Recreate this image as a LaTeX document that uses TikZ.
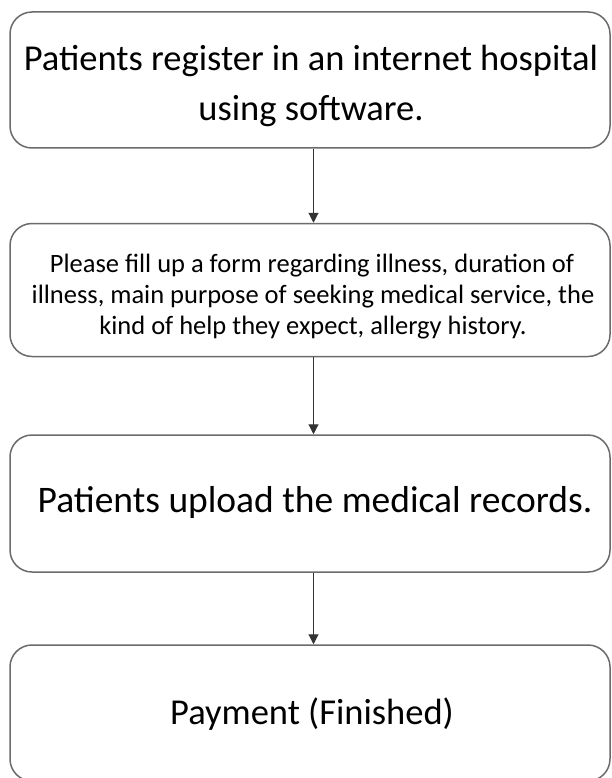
\documentclass[tikz,border=0pt]{standalone}
\usepackage{fontspec}
\setmainfont{Carlito}
\usetikzlibrary{arrows.meta}
\begin{document}
\begin{tikzpicture}[x=1pt,y=-1pt,
  stepbox/.style={draw=black!58, line width=1.5pt, rounded corners=22pt, minimum width=600pt, inner sep=0pt, fill=white},
  big/.style={anchor=base, inner sep=0pt, font=\fontsize{36.5}{40}\selectfont},
  small/.style={anchor=base, inner sep=0pt, font=\fontsize{26.5}{30}\selectfont},
  flow/.style={draw=black!80, line width=1.1pt, -{Triangle[length=10pt,width=10pt]}}]
\clip (0,0) rectangle (611,778);
\useasboundingbox (0,0) rectangle (611,778);
\node[stepbox, minimum height=136pt] (b1) at (310,80) {};
\node[stepbox, minimum height=133pt] (b2) at (310,290) {};
\node[stepbox, minimum height=137pt] (b3) at (310,503.5) {};
\node[stepbox, minimum height=136pt] (b4) at (310,713) {};
\node[big] (t1a) at (311,71) {Patients register in an internet hospital};
\node[big] (t1b) at (311,121) {using software.};
\node[small] (t2a) at (312,272) {Please fill up a form regarding illness, duration of};
\node[small] (t2b) at (313,303) {illness, main purpose of seeking medical service, the};
\node[small] (t2c) at (313,334) {kind of help they expect, allergy history.};
\node[big, font=\fontsize{37.5}{40}\selectfont] (t3) at (315,512) {Patients upload the medical records.};
\node[big] (t4) at (312,724) {Payment (Finished)};
\draw[flow] (b1.south -| 313.5,0) -- (b2.north -| 313.5,0);
\draw[flow] (b2.south -| 313.5,0) -- (b3.north -| 313.5,0);
\draw[flow] (b3.south -| 313.5,0) -- (b4.north -| 313.5,0);
\end{tikzpicture}
\end{document}
